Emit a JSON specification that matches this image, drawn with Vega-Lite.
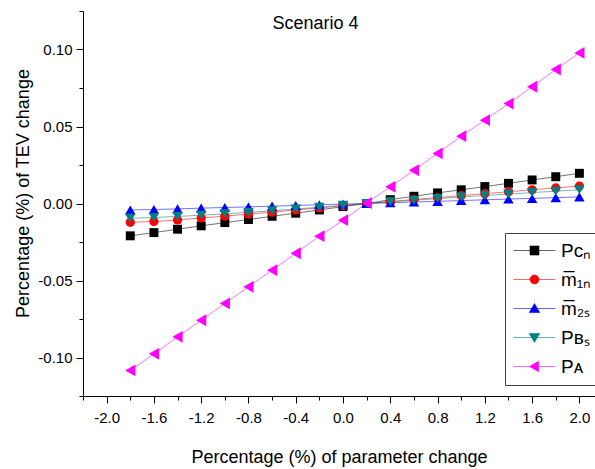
{
  "$schema": "https://vega.github.io/schema/vega-lite/v6.json",
  "width": 512,
  "height": 385,
  "autosize": {"type": "none"},
  "padding": {"left": 83, "top": 11, "right": 0, "bottom": 73},
  "background": "white",
  "title": {"text": "Scenario 4", "font": "Liberation Sans", "fontSize": 18, "fontWeight": "normal", "color": "black", "anchor": "middle", "frame": "group", "dx": -23.5, "dy": 19, "offset": -17, "baseline": "alphabetic"},
  "config": {
    "view": {"stroke": null},
    "axis": {"domainColor": "black", "tickColor": "black", "labelColor": "black", "titleColor": "black", "labelFont": "Liberation Sans", "titleFont": "Liberation Sans", "titleFontWeight": "normal", "grid": false, "labelFontSize": 15, "titleFontSize": 18, "domainWidth": 1, "tickWidth": 1}
  },
  "data": {"values": [
    {"x": -1.8, "y": -0.0210, "s": "PCn"}, {"x": -1.6, "y": -0.0189, "s": "PCn"}, {"x": -1.4, "y": -0.0167, "s": "PCn"}, {"x": -1.2, "y": -0.0145, "s": "PCn"}, {"x": -1.0, "y": -0.0124, "s": "PCn"}, {"x": -0.8, "y": -0.0104, "s": "PCn"}, {"x": -0.6, "y": -0.0083, "s": "PCn"}, {"x": -0.4, "y": -0.0063, "s": "PCn"}, {"x": -0.2, "y": -0.0042, "s": "PCn"}, {"x": 0.0, "y": -0.0020, "s": "PCn"}, {"x": 0.2, "y": 0.0000, "s": "PCn"}, {"x": 0.4, "y": 0.0025, "s": "PCn"}, {"x": 0.6, "y": 0.0047, "s": "PCn"}, {"x": 0.8, "y": 0.0069, "s": "PCn"}, {"x": 1.0, "y": 0.0089, "s": "PCn"}, {"x": 1.2, "y": 0.0110, "s": "PCn"}, {"x": 1.4, "y": 0.0131, "s": "PCn"}, {"x": 1.6, "y": 0.0153, "s": "PCn"}, {"x": 1.8, "y": 0.0174, "s": "PCn"}, {"x": 2.0, "y": 0.0196, "s": "PCn"},
    {"x": -1.8, "y": -0.0122, "s": "m1n"}, {"x": -1.6, "y": -0.0117, "s": "m1n"}, {"x": -1.4, "y": -0.0107, "s": "m1n"}, {"x": -1.2, "y": -0.0094, "s": "m1n"}, {"x": -1.0, "y": -0.0082, "s": "m1n"}, {"x": -0.8, "y": -0.0069, "s": "m1n"}, {"x": -0.6, "y": -0.0056, "s": "m1n"}, {"x": -0.4, "y": -0.0042, "s": "m1n"}, {"x": -0.2, "y": -0.0029, "s": "m1n"}, {"x": 0.0, "y": -0.0014, "s": "m1n"}, {"x": 0.2, "y": 0.0000, "s": "m1n"}, {"x": 0.4, "y": 0.0013, "s": "m1n"}, {"x": 0.6, "y": 0.0026, "s": "m1n"}, {"x": 0.8, "y": 0.0038, "s": "m1n"}, {"x": 1.0, "y": 0.0052, "s": "m1n"}, {"x": 1.2, "y": 0.0064, "s": "m1n"}, {"x": 1.4, "y": 0.0076, "s": "m1n"}, {"x": 1.6, "y": 0.0089, "s": "m1n"}, {"x": 1.8, "y": 0.0101, "s": "m1n"}, {"x": 2.0, "y": 0.0113, "s": "m1n"},
    {"x": -1.8, "y": -0.0042, "s": "m2s"}, {"x": -1.6, "y": -0.0039, "s": "m2s"}, {"x": -1.4, "y": -0.0035, "s": "m2s"}, {"x": -1.2, "y": -0.0030, "s": "m2s"}, {"x": -1.0, "y": -0.0026, "s": "m2s"}, {"x": -0.8, "y": -0.0022, "s": "m2s"}, {"x": -0.6, "y": -0.0017, "s": "m2s"}, {"x": -0.4, "y": -0.0013, "s": "m2s"}, {"x": -0.2, "y": -0.0008, "s": "m2s"}, {"x": 0.0, "y": -0.0004, "s": "m2s"}, {"x": 0.2, "y": 0.0000, "s": "m2s"}, {"x": 0.4, "y": 0.0005, "s": "m2s"}, {"x": 0.6, "y": 0.0010, "s": "m2s"}, {"x": 0.8, "y": 0.0014, "s": "m2s"}, {"x": 1.0, "y": 0.0019, "s": "m2s"}, {"x": 1.2, "y": 0.0024, "s": "m2s"}, {"x": 1.4, "y": 0.0029, "s": "m2s"}, {"x": 1.6, "y": 0.0033, "s": "m2s"}, {"x": 1.8, "y": 0.0038, "s": "m2s"}, {"x": 2.0, "y": 0.0043, "s": "m2s"},
    {"x": -1.8, "y": -0.0096, "s": "PBs"}, {"x": -1.6, "y": -0.0091, "s": "PBs"}, {"x": -1.4, "y": -0.0084, "s": "PBs"}, {"x": -1.2, "y": -0.0076, "s": "PBs"}, {"x": -1.0, "y": -0.0067, "s": "PBs"}, {"x": -0.8, "y": -0.0058, "s": "PBs"}, {"x": -0.6, "y": -0.0047, "s": "PBs"}, {"x": -0.4, "y": -0.0036, "s": "PBs"}, {"x": -0.2, "y": -0.0024, "s": "PBs"}, {"x": 0.0, "y": -0.0012, "s": "PBs"}, {"x": 0.2, "y": 0.0000, "s": "PBs"}, {"x": 0.4, "y": 0.0011, "s": "PBs"}, {"x": 0.6, "y": 0.0021, "s": "PBs"}, {"x": 0.8, "y": 0.0032, "s": "PBs"}, {"x": 1.0, "y": 0.0042, "s": "PBs"}, {"x": 1.2, "y": 0.0052, "s": "PBs"}, {"x": 1.4, "y": 0.0061, "s": "PBs"}, {"x": 1.6, "y": 0.0071, "s": "PBs"}, {"x": 1.8, "y": 0.0080, "s": "PBs"}, {"x": 2.0, "y": 0.0089, "s": "PBs"},
    {"x": -1.8, "y": -0.1084, "s": "PA"}, {"x": -1.6, "y": -0.0976, "s": "PA"}, {"x": -1.4, "y": -0.0866, "s": "PA"}, {"x": -1.2, "y": -0.0758, "s": "PA"}, {"x": -1.0, "y": -0.0649, "s": "PA"}, {"x": -0.8, "y": -0.0541, "s": "PA"}, {"x": -0.6, "y": -0.0433, "s": "PA"}, {"x": -0.4, "y": -0.0323, "s": "PA"}, {"x": -0.2, "y": -0.0212, "s": "PA"}, {"x": 0.0, "y": -0.0108, "s": "PA"}, {"x": 0.2, "y": 0.0003, "s": "PA"}, {"x": 0.4, "y": 0.0108, "s": "PA"}, {"x": 0.6, "y": 0.0216, "s": "PA"}, {"x": 0.8, "y": 0.0325, "s": "PA"}, {"x": 1.0, "y": 0.0437, "s": "PA"}, {"x": 1.2, "y": 0.0541, "s": "PA"}, {"x": 1.4, "y": 0.0649, "s": "PA"}, {"x": 1.6, "y": 0.0758, "s": "PA"}, {"x": 1.8, "y": 0.0870, "s": "PA"}, {"x": 2.0, "y": 0.0978, "s": "PA"}
  ]},
  "resolve": {"axis": {"x": "independent", "y": "independent"}},
  "layer": [
    {
      "mark": {"type": "line", "strokeWidth": 1, "opacity": 0.55},
      "encoding": {
        "x": {"field": "x", "type": "quantitative", "scale": {"domain": [-2.2, 2.132], "nice": false, "zero": false},
              "axis": {"orient": "bottom", "values": [-2.0, -1.6, -1.2, -0.8, -0.4, 0.0, 0.4, 0.8, 1.2, 1.6, 2.0], "format": ".1f", "labelExpr": "replace(datum.label, '−', '-')", "tickSize": 7, "labelPadding": 7, "title": "Percentage (%) of parameter change", "titleBaseline": "alphabetic", "titleY": 66}},
        "y": {"field": "y", "type": "quantitative", "scale": {"domain": [-0.125, 0.125], "nice": false, "zero": false},
              "axis": {"orient": "left", "values": [-0.1, -0.05, 0.0, 0.05, 0.1], "format": ".2f", "labelExpr": "replace(datum.label, '−', '-')", "tickSize": 7, "labelPadding": 4, "title": "Percentage (%) of TEV change", "titleX": -51, "titleY": 182, "titleBaseline": "bottom"}},
        "color": {"field": "s", "type": "nominal", "scale": {"domain": ["PCn", "m1n", "m2s", "PBs", "PA"], "range": ["#000000", "#ff0000", "#0000ff", "#008080", "#ff00ff"]},
                  "legend": {"orient": "none", "legendX": 422, "legendY": 222, "title": null, "symbolSize": 324, "symbolOffset": 12, "labelOffset": 17, "padding": 8, "rowPadding": 9, "strokeColor": "#404040", "fillColor": "white", "labelFont": "Liberation Sans", "labelFontSize": 19, "labelColor": "black", "labelLimit": 200, "symbolOpacity": 1, "symbolStrokeWidth": 1,
                             "labelExpr": "{'PCn':'Pᴄₙ','m1n':'m̅₁ₙ','m2s':'m̅₂ₛ','PBs':'Pʙₛ','PA':'Pᴀ'}[datum.value]",
                             "encode": {"symbols": {"update": {
                               "shape": {"signal": "{'PCn':'M-2.33,0H2.33M-0.5,-0.5H0.5V0.5H-0.5Z','m1n':'M-2.33,0H2.33M-0.5,0A0.5,0.5,0,1,0,0.5,0A0.5,0.5,0,1,0,-0.5,0Z','m2s':'M-2.33,0H2.33M0,-0.55L0.58,0.45L-0.58,0.45Z','PBs':'M-2.33,0H2.33M0,0.55L0.58,-0.45L-0.58,-0.45Z','PA':'M-2.33,0H2.33M-0.55,0L0.45,-0.58L0.45,0.58Z'}[datum.value]"},
                               "fill": {"signal": "scale('color', datum.value)"},
                               "strokeWidth": {"value": 1},
                               "strokeOpacity": {"value": 0.6},
                               "fillOpacity": {"value": 1},
                               "opacity": {"value": 1}
                             }}}}},
        "detail": {"field": "s"}
      }
    },
    {
      "transform": [{"filter": "datum.s === 'PCn'"}],
      "mark": {"type": "point", "filled": true, "opacity": 1, "shape": "square", "size": 80, "color": "#000000"},
      "encoding": {
        "x": {"field": "x", "type": "quantitative",
              "axis": {"orient": "bottom", "values": [-2.2, -1.8, -1.4, -1.0, -0.6, -0.2, 0.2, 0.6, 1.0, 1.4, 1.8], "tickSize": 4, "labels": false, "domain": false, "title": null}},
        "y": {"field": "y", "type": "quantitative",
              "axis": {"orient": "left", "values": [-0.125, -0.075, -0.025, 0.025, 0.075, 0.125], "tickSize": 4, "labels": false, "domain": false, "title": null}}
      }
    },
    {
      "transform": [{"filter": "datum.s === 'm1n'"}],
      "mark": {"type": "point", "filled": true, "opacity": 1, "shape": "circle", "size": 85, "color": "#ff0000"},
      "encoding": {
        "x": {"field": "x", "type": "quantitative", "axis": null},
        "y": {"field": "y", "type": "quantitative", "axis": null}
      }
    },
    {
      "transform": [{"filter": "datum.s === 'm2s'"}],
      "mark": {"type": "point", "filled": true, "opacity": 1, "shape": "triangle-up", "size": 110, "color": "#0000ff"},
      "encoding": {
        "x": {"field": "x", "type": "quantitative", "axis": null},
        "y": {"field": "y", "type": "quantitative", "axis": null}
      }
    },
    {
      "transform": [{"filter": "datum.s === 'PBs'"}],
      "mark": {"type": "point", "filled": true, "opacity": 1, "shape": "triangle-down", "size": 110, "color": "#008080"},
      "encoding": {
        "x": {"field": "x", "type": "quantitative", "axis": null},
        "y": {"field": "y", "type": "quantitative", "axis": null}
      }
    },
    {
      "transform": [{"filter": "datum.s === 'PA'"}],
      "mark": {"type": "point", "filled": true, "opacity": 1, "shape": "triangle-left", "size": 140, "color": "#ff00ff"},
      "encoding": {
        "x": {"field": "x", "type": "quantitative", "axis": null},
        "y": {"field": "y", "type": "quantitative", "axis": null}
      }
    }
  ]
}
